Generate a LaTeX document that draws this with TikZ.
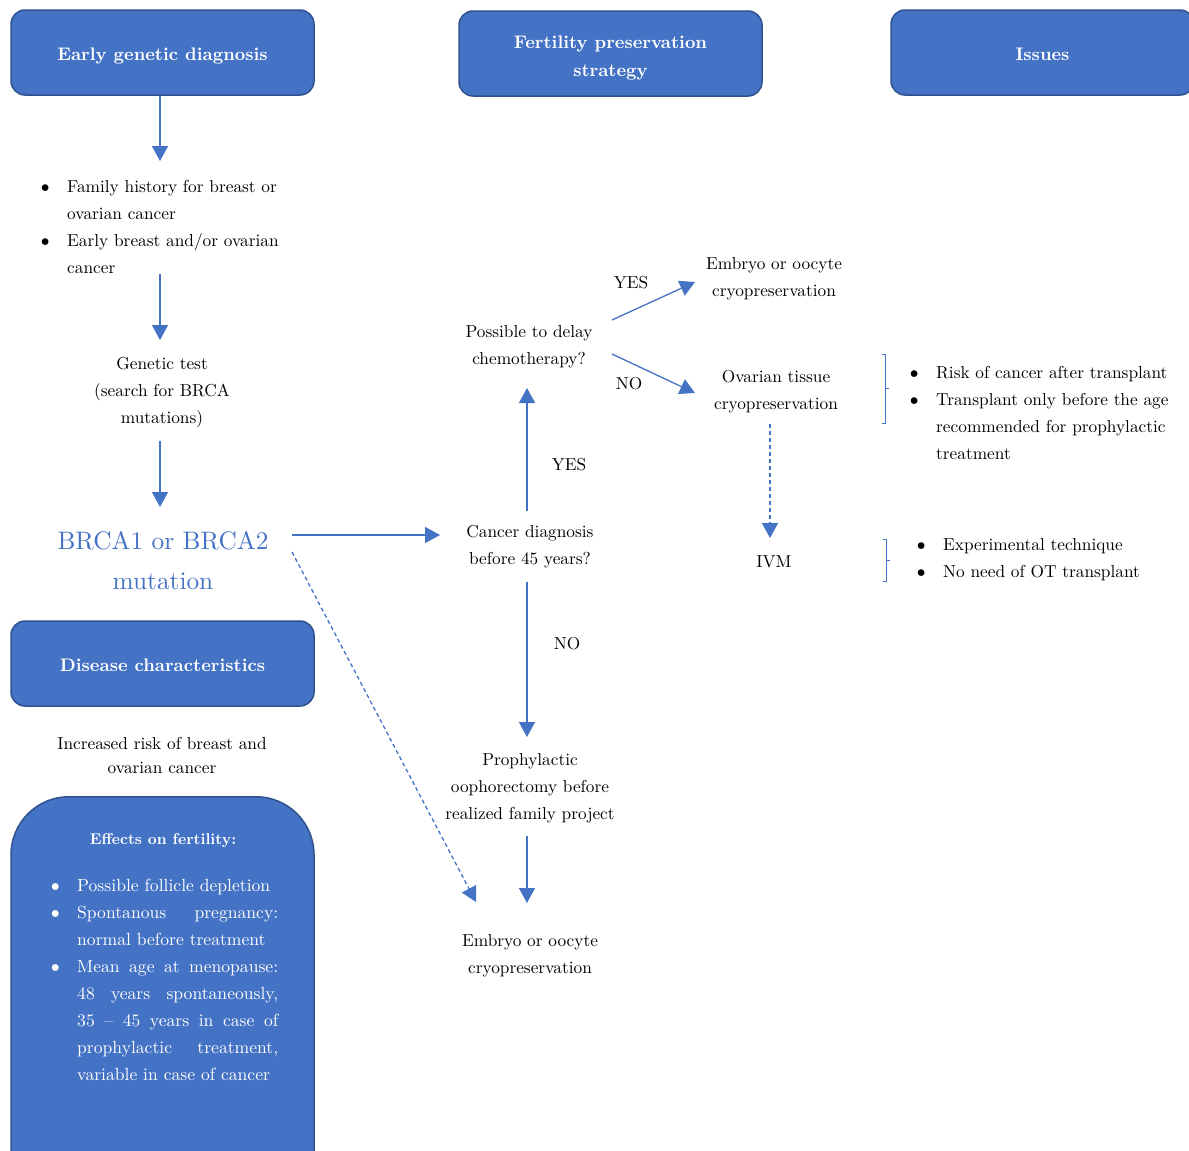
\documentclass[tikz,border=0pt]{standalone}
\usepackage{fontspec}
\usepackage{graphicx}
\setmainfont{lmroman10-regular}[Extension=.otf, BoldFont=lmroman10-bold, ItalicFont=lmroman10-italic, BoldItalicFont=lmroman10-bolditalic]
\usetikzlibrary{arrows.meta,calc}
\definecolor{bfill}{HTML}{4472C4}
\definecolor{bdraw}{HTML}{2F528F}
\newcommand{\bigbul}{\hspace*{-1pt}\raisebox{-1.2pt}{\scalebox{1.35}{\textbullet}}}
\tikzset{
  headbox/.style={draw=bdraw, fill=bfill, line width=1.5pt, rounded corners=14pt,
    minimum width=303pt, minimum height=85pt, inner sep=0pt, text=white, align=center,
    font=\fontsize{18.2}{28}\selectfont\bfseries},
  txt/.style={inner sep=0pt, align=center, text=black, font=\fontsize{17.3}{27}\selectfont, yshift=-2pt},
  lst/.style={inner sep=0pt, text=black, font=\fontsize{17.3}{27}\selectfont, anchor=north west, yshift=-2pt},
  lbl/.style={inner sep=0pt, text=black, font=\fontsize{17.3}{20}\selectfont, yshift=-1pt},
  arr/.style={draw=bfill, line width=1.3pt, -{Triangle[length=15pt,width=16pt]}},
  darr/.style={arr, dash pattern=on 4pt off 3pt},
  brk/.style={draw=bfill, line width=0.9pt},
}
\begin{document}
\begin{tikzpicture}[x=1pt,y=-1pt]
\clip (0,0) rectangle (1189,1151);
\fill[white] (0,0) rectangle (1189,1151);

% header boxes
\node[headbox] (egd) at (162.5,52.5) {\raisebox{-7.5pt}[0pt][0pt]{Early genetic diagnosis}};
\node[headbox] (fps) at (610.5,53.5) {\raisebox{-7.4pt}[0pt][0pt]{\begin{tabular}{@{}c@{}}Fertility preservation\\strategy\end{tabular}}};
\node[headbox] (iss) at (1042.5,52.5) {\raisebox{-8.3pt}[0pt][0pt]{Issues}};
\node[headbox] (dis) at (162.5,663.5) {\raisebox{-7.5pt}[0pt][0pt]{Disease characteristics}};
\node[headbox, rounded corners=58pt, minimum height=420pt, anchor=north] (eff) at (162.5,796) {};

% effects box content
\node[txt, text=white, font=\fontsize{15.5}{20}\selectfont\bfseries] (efft) at (163,838.5) {Effects on fertility:};
\node[lst, text=white, font=\fontsize{17.6}{27}\selectfont] (effl) at (47,870) {\begin{tabular}{@{}p{30pt}@{}l@{}}
\bigbul & Possible follicle depletion\\
\bigbul & \makebox[201pt][s]{Spontanous pregnancy:}\\
 & normal before treatment\\
\bigbul & \makebox[201pt][s]{Mean age at menopause:}\\
 & \makebox[201pt][s]{48 years spontaneously,}\\
 & \makebox[201pt][s]{35 -- 45 years in case of}\\
 & \makebox[201pt][s]{prophylactic treatment,}\\
 & variable in case of cancer
\end{tabular}};

% left column
\node[lst] (fam) at (37,171) {\begin{tabular}{@{}p{30pt}@{}l@{}}
\bigbul & Family history for breast or\\
 & ovarian cancer\\
\bigbul & Early breast and/or ovarian\\
 & cancer
\end{tabular}};
\node[txt] (gen) at (162,390.5) {Genetic test\\(search for BRCA\\mutations)};
\node[txt, text=bfill, font=\fontsize{25.3}{40}\selectfont] (brca) at (163,559) {BRCA1 or BRCA2\\mutation};
\node[txt, font=\fontsize{17.3}{24}\selectfont] (incr) at (162,753) {Increased risk of breast and\\ovarian cancer};

% middle column
\node[txt] (pd) at (529,344.5) {Possible to delay\\chemotherapy?};
\node[txt] (cd) at (530,544.5) {Cancer diagnosis\\before 45 years?};
\node[txt] (pro) at (530,786) {Prophylactic\\oophorectomy before\\realized family project};
\node[txt] (eo2) at (530,953.5) {Embryo or oocyte\\cryopreservation};

% right-middle column
\node[txt] (eo1) at (774,276.5) {Embryo or oocyte\\cryopreservation};
\node[txt] (ot) at (776,390) {Ovarian tissue\\cryopreservation};
\node[txt] (ivm) at (774,560) {IVM};

% labels
\node[lbl] (yes1) at (631,282) {YES};
\node[lbl] (no1) at (629,383) {NO};
\node[lbl] (yes2) at (569,464) {YES};
\node[lbl] (no2) at (567,643) {NO};

% issues lists
\node[lst] (iss1) at (906,357) {\begin{tabular}{@{}p{30pt}@{}l@{}}
\bigbul & Risk of cancer after transplant\\
\bigbul & Transplant only before the age\\
 & recommended for prophylactic\\
 & treatment
\end{tabular}};
\node[lst] (iss2) at (913,529) {\begin{tabular}{@{}p{30pt}@{}l@{}}
\bigbul & Experimental technique\\
\bigbul & No need of OT transplant
\end{tabular}};

% brackets
\draw[brk] (882,354) -- (885,354) -- (885,423) -- (882,423) (885,388) -- (889,388);
\draw[brk] (883,539) -- (886,539) -- (886,581) -- (883,581) (886,560) -- (890,560);

% arrows (text nodes are shifted 2pt down by their style)
\draw[arr] ($(egd.center)+(-2.5,43.5)$) -- ($(fam.north west)+(123,-12)$);
\draw[arr] ($(fam.north west)+(123,101)$) -- ($(gen.center)+(-2,-52.5)$);
\draw[arr] ($(gen.center)+(-2,48.5)$) -- ($(brca.center)+(-3,-54)$);
\draw[arr] ($(brca.center)+(129,-26)$) -- ($(cd.center)+(-90,-11.5)$);
\draw[darr] ($(brca.center)+(129,-9)$) -- ($(eo2.center)+(-54,-53.5)$);
\draw[arr] ($(cd.center)+(-3,-35.5)$) -- ($(pd.center)+(-2,41.5)$);
\draw[arr] ($(cd.center)+(-3,35.5)$) -- ($(pro.center)+(-3,-51)$);
\draw[arr] ($(pro.center)+(-3,48)$) -- ($(eo2.center)+(-3,-52.5)$);
\draw[arr] ($(pd.center)+(83,-26.5)$) -- ($(eo1.center)+(-79,3.5)$);
\draw[arr] ($(pd.center)+(83,7.5)$) -- ($(ot.center)+(-81,1)$);
\draw[darr] ($(ot.center)+(-6,32)$) -- ($(ivm.center)+(-4,-24)$);
\end{tikzpicture}
\end{document}
